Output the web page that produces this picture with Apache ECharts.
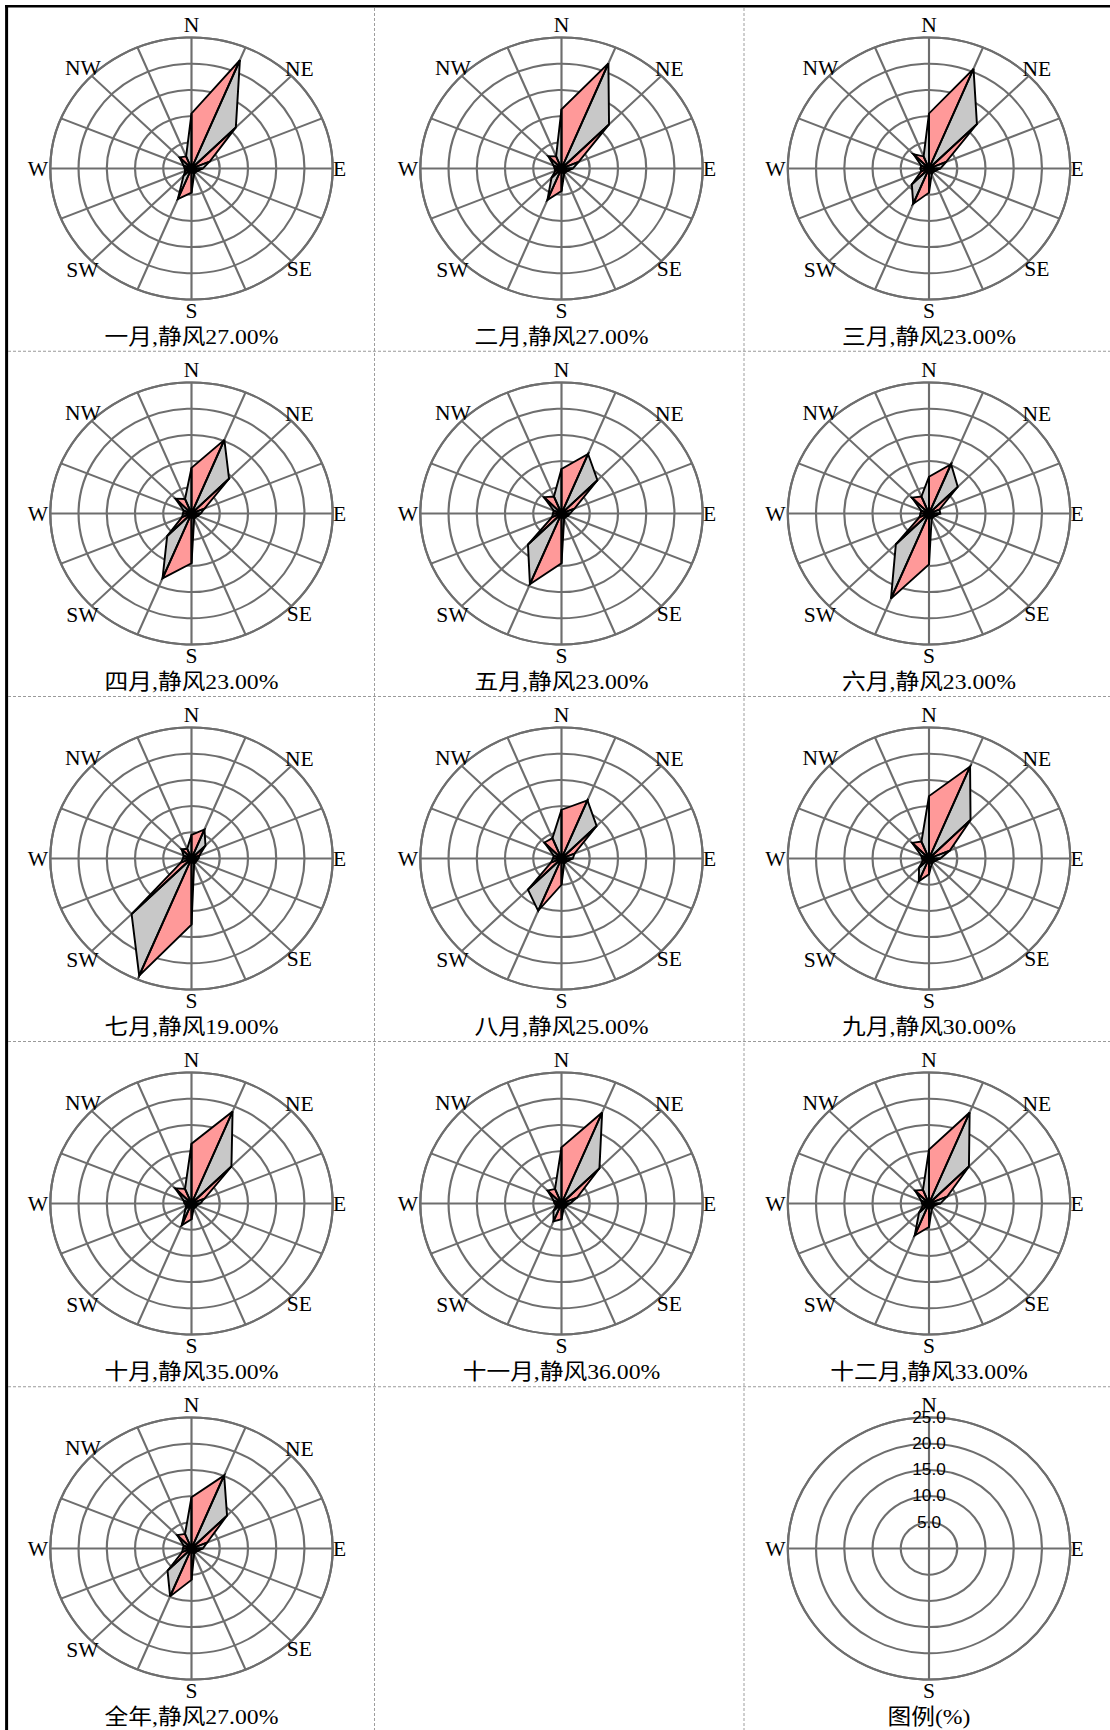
<!DOCTYPE html>
<html>
<head>
<meta charset="utf-8">
<script src="https://cdn.jsdelivr.net/npm/echarts@6/dist/echarts.min.js"></script>
<style>
html,body{margin:0;padding:0;background:#fff;overflow:hidden;width:1110px;height:1730px;}
#chart{position:absolute;left:0;top:0;height:1730px;transform-origin:0 0;}
</style>
</head>
<body>
<div id="chart"></div>
<script>
// ---- data (wind frequency %, 16 directions clockwise from N) ----
const directions = ['N','NNE','NE','ENE','E','ESE','SE','SSE','S','SSW','SW','WSW','W','WNW','NW','NNW'];
const compassLabels = ['N','NE','E','SE','S','SW','W','NW'];
const compassAngles = [0,45,90,135,180,225,270,315];
const legendLabels = ['N','E','S','W'];
const legendAngles = [0,90,180,270];
const periodNames = ['一月','二月','三月','四月','五月','六月','七月','八月','九月','十月','十一月','十二月','全年'];
const calmPct = [27,27,23,23,23,23,19,25,30,35,36,33,27];
const jan = [10.5,22.4,11.1,3.5,2.0,1.2,1.0,1.2,4.6,6.3,2.0,1.2,1.2,1.5,3.0,2.5];
const feb = [11.3,21.7,11.9,3.3,2.0,1.2,1.0,1.2,4.3,6.5,2.5,1.2,1.2,1.5,3.3,2.5];
const mar = [10.5,20.6,12.0,3.3,2.0,1.2,1.0,1.2,4.6,7.3,4.3,1.5,1.5,1.5,3.9,2.5];
const apr = [8.7,15.2,9.4,2.5,1.6,1.2,1.0,1.2,9.5,13.4,6.1,1.8,1.5,1.5,4.0,3.0];
const may = [8.5,12.3,9.0,2.5,1.5,1.2,1.0,1.2,9.5,14.6,8.4,1.8,1.5,1.5,4.4,3.5];
const jun = [7.0,10.2,7.2,2.0,2.0,1.2,1.0,1.2,9.7,17.6,8.3,1.8,1.5,1.5,4.3,3.5];
const jul = [4.5,6.0,3.5,1.5,1.2,1.0,1.0,1.2,12.6,24.2,15.0,2.0,1.5,1.5,2.5,2.0];
const aug = [9.3,12.0,8.8,2.5,2.0,1.2,1.0,1.2,5.0,10.8,8.4,2.0,1.5,1.5,4.3,4.2];
const sep = [11.9,19.0,10.4,4.0,2.0,1.2,1.0,1.2,3.0,4.7,2.5,1.2,1.2,1.5,4.2,3.5];
const oct = [11.4,19.0,10.0,2.5,1.5,1.0,1.0,1.0,3.0,4.5,1.5,1.0,1.2,1.5,4.1,3.0];
const nov = [10.7,18.8,9.5,3.0,1.5,1.0,1.0,1.0,3.0,3.7,2.0,1.0,1.2,1.5,3.5,3.0];
const dec = [10.3,18.8,10.0,3.5,2.0,1.0,1.0,1.2,4.5,6.6,2.5,1.2,1.2,1.5,3.5,2.8];
const annual = [9.8,15.1,8.9,3.0,2.0,1.2,1.0,1.2,6.0,9.9,6.0,1.8,1.5,1.5,3.6,3.0];
const radiusTicks = [5,10,15,20,25];

const roses = [jan,feb,mar,apr,may,jun,jul,aug,sep,oct,nov,dec,annual];

// ---- layout / style ----
const SX = 141.2/131;           // horizontal stretch of the original (elliptical rings)
const W = 1110, H = 1730;
const CW = W / SX;
const colX = [191.5, 561.5, 929];
const rowY = [168.5, 513.5, 858.5, 1203.5, 1548.5];
const R = 131;
const GRID = '#6e6e6e';
const PINK = '#ff9999';
const GRAY = '#c8c8c8';
const SERIF = '"Liberation Serif","Noto Sans CJK SC",serif';
// radial position (axis units) of the compass-label centres, per angle
const labelRadius = {0:27.4,45:27.0,90:26.2,135:27.0,180:27.2,225:27.3,270:27.2,315:27.2};

const el = document.getElementById('chart');
el.style.width = CW + 'px';
el.style.transform = 'scaleX(' + SX + ')';
const chart = echarts.init(el, null, {renderer:'svg', width: CW, height: H});

function triData(vals, parity){
  const step = 360 / directions.length;
  const out = [];
  for (let i = parity; i < directions.length; i += 2){
    const j = i + 1;
    out.push([0, i*step], [vals[i], i*step], [vals[j % directions.length], j*step], [0, j*step], ['-','-']);
  }
  return out;
}

const polar = [], angleAxis = [], radiusAxis = [], series = [], graphic = [];
const polarCenters = [];

function addPolar(idx, col, row, isLegend){
  const center = [colX[col]/SX, rowY[row]];
  polarCenters.push(center);
  polar.push({center:center, radius:R});
  angleAxis.push({
    polarIndex: idx, type:'value', min:0, max:360, interval: isLegend ? 90 : 22.5,
    startAngle:90, clockwise:true,
    axisLine:{show:true, lineStyle:{color:GRID, width:2}},
    axisTick:{show:false},
    splitLine:{show:true, lineStyle:{color:GRID, width:2}},
    splitArea:{show:false},
    axisLabel:{show:false}
  });
  radiusAxis.push({
    polarIndex: idx, type:'value', min:0, max:radiusTicks[radiusTicks.length-1], interval:radiusTicks[0],
    axisLine:{show:false}, axisTick:{show:false},
    splitLine:{show:true, lineStyle:{color:GRID, width:2}},
    splitArea:{show:false},
    axisLabel: isLegend ? {show:true, margin:0, align:'center', verticalAlign:'middle',
      color:'#000', fontFamily:'"Liberation Sans",Arial,sans-serif', fontSize:16,
      formatter: v => v === 0 ? '' : Number(v).toFixed(1)} : {show:false}
  });
}

roses.forEach((vals, k) => {
  const col = k % 3, row = Math.floor(k / 3);
  addPolar(k, col, row, false);
  [[0, PINK], [1, GRAY]].forEach(([parity, color]) => {
    series.push({
      type:'line', coordinateSystem:'polar', polarIndex:k,
      data: triData(vals, parity), symbol:'none', silent:true, animation:false,
      connectNulls:false,
      lineStyle:{color:'#000', width:1.8, join:'miter'},
      areaStyle:{color:color, opacity:1},
      z:3
    });
  });
  graphic.push({type:'text', x: colX[col]/SX, y: rowY[row] + 168, silent:true,
    style:{text: periodNames[k] + ',静风' + calmPct[k].toFixed(2) + '%', fill:'#000',
      font: '22px ' + SERIF, textAlign:'center', textVerticalAlign:'middle'}});
});
// legend rose
addPolar(13, 2, 4, true);
graphic.push({type:'text', x: colX[2]/SX, y: rowY[4] + 168, silent:true,
  style:{text:'图例(%)', fill:'#000', font:'22px ' + SERIF, textAlign:'center', textVerticalAlign:'middle'}});

// frame and dashed separators
graphic.push({type:'line', silent:true, shape:{x1:5/SX, y1:6.3, x2:W/SX, y2:6.3}, style:{stroke:'#000', lineWidth:2.6}});
graphic.push({type:'line', silent:true, shape:{x1:6.6/SX, y1:5, x2:6.6/SX, y2:H}, style:{stroke:'#000', lineWidth:3/SX}});
[374.5, 744].forEach(x => graphic.push({type:'line', silent:true,
  shape:{x1:x/SX, y1:8, x2:x/SX, y2:H}, style:{stroke:'#9a9a9a', lineWidth:1/SX, lineDash:[3,2]}}));
[351.2, 696.4, 1041.6, 1386.8].forEach(y => graphic.push({type:'line', silent:true,
  shape:{x1:8/SX, y1:y, x2:W/SX, y2:y}, style:{stroke:'#9a9a9a', lineWidth:1, lineDash:[3/SX,2/SX]}}));

chart.setOption({
  animation:false,
  backgroundColor:'#fff',
  polar, angleAxis, radiusAxis, series
});

// compass labels, positioned through each polar coordinate system
function labelPoint(k, r, ang){
  let p = null;
  try { p = chart.convertToPixel({polarIndex:k}, [r, ang]); } catch(e) { p = null; }
  if (!p || isNaN(p[0])) {
    const c = polarCenters[k], rad = ang * Math.PI / 180, rp = R * r / radiusTicks[radiusTicks.length-1];
    p = [c[0] + rp * Math.sin(rad), c[1] - rp * Math.cos(rad)];
  }
  return p;
}
for (let k = 0; k < 14; k++){
  const isLegend = k === 13;
  const labs = isLegend ? legendLabels : compassLabels;
  const angs = isLegend ? legendAngles : compassAngles;
  labs.forEach((t, i) => {
    const p = labelPoint(k, labelRadius[angs[i]], angs[i]);
    graphic.push({type:'text', x:p[0], y:p[1], silent:true, z:10,
      style:{text:t, fill:'#000', font:'20px ' + SERIF, textAlign:'center', textVerticalAlign:'middle'}});
  });
}
chart.setOption({graphic});
</script>
</body>
</html>
